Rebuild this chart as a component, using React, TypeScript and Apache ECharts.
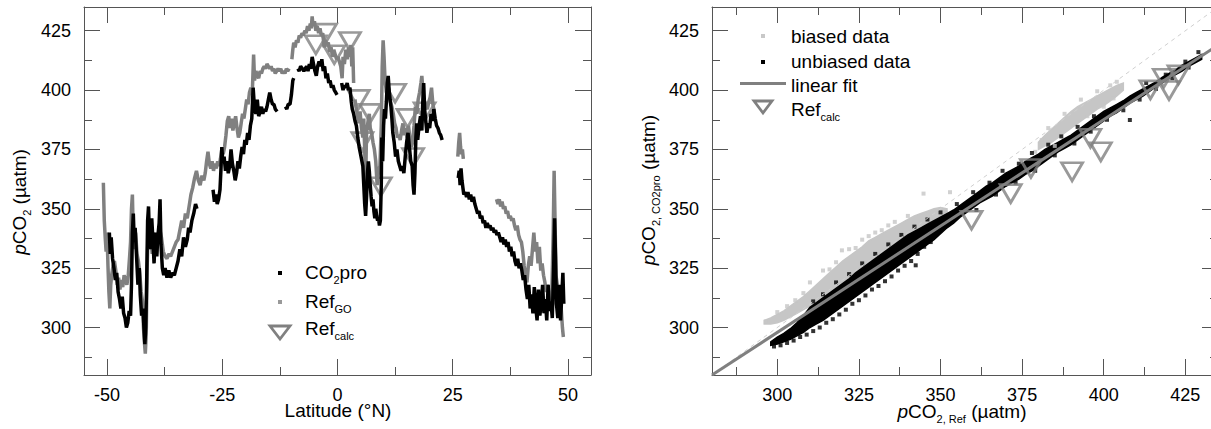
import { useEffect, useRef } from 'react';
import * as echarts from 'echarts';

const FONT = '"Liberation Sans", Arial, Helvetica, sans-serif';

// ---- tick values ----
const latMajor = [-50, -25, 0, 25, 50];
const latMinor = [-37.5, -12.5, 12.5, 37.5];
const pMajor = [300, 325, 350, 375, 400, 425];
const pMinor = [287.5, 312.5, 337.5, 362.5, 387.5, 412.5];

// ---- left panel: pCO2 along latitude (null = gap) ----
const co2pro: (number[] | null)[] = [
  [-49.5,340],[-49.3,331],[-49.1,338],[-48.8,329],[-48.5,325],[-48.2,320],[-47.9,323],[-47.6,315],[-47.3,312],[-47.0,308],[-46.7,313],[-46.4,306],[-46.1,304],[-45.8,300],[-45.5,302],[-45.2,307],[-44.9,305],[-44.7,318],[-44.5,340],[-44.3,348],[-44.1,336],[-43.9,342],[-43.6,330],[-43.3,318],[-43.0,325],[-42.8,314],[-42.5,305],[-42.2,308],[-42.0,300],[-41.8,293],[-41.6,300],[-41.4,320],[-41.2,345],[-41.0,351],[-40.8,338],[-40.5,333],[-40.3,346],[-40.0,335],[-39.8,327],[-39.5,340],[-39.2,330],[-39.0,338],[-38.7,344],[-38.5,354],[-38.3,335],[-38.0,325],[-37.7,322],[-37.4,325],[-37.0,321],[-36.6,324],[-36.2,321],[-35.8,323],[-35.4,322],[-35.0,325],[-34.6,328],[-34.2,333],[-33.8,330],[-33.4,338],[-33.0,334],[-32.6,337],[-32.3,342],[-32.0,340],[-31.6,345],[-31.2,348],[-30.8,352],[-30.5,350],
  null,
  [-27.0,358],[-26.7,353],[-26.4,356],[-26.1,352],[-25.8,354],[-25.5,358],[-25.3,366],[-25.1,376],[-24.9,370],[-24.6,372],[-24.3,366],[-24.0,370],[-23.7,365],[-23.4,368],[-23.1,375],[-22.8,369],[-22.5,366],[-22.2,362],[-21.9,365],[-21.6,370],[-21.3,367],[-21.0,372],[-20.7,376],[-20.4,373],[-20.1,379],[-19.8,377],[-19.5,382],[-19.2,379],[-18.9,385],[-18.6,388],[-18.3,401],[-18.0,392],[-17.7,390],[-17.4,396],[-17.1,389],[-16.8,391],[-16.5,393],[-16.2,390],[-15.9,392],[-15.6,391],[-15.3,393],[-15.0,396],[-14.7,399],[-14.4,396],[-14.1,394],[-13.8,394],[-13.5,392],[-13.1,391],
  null,
  [-11.3,393],[-11.0,392],[-10.7,394],[-10.3,394],[-10.0,398],[-9.7,404],[-9.5,405],
  null,
  [-8.6,409],[-8.3,408],[-8.0,410],[-7.6,409],[-7.3,408],[-7.0,409],[-6.7,410],[-6.4,408],[-6.1,411],[-5.8,409],[-5.5,414],[-5.2,411],[-4.9,408],[-4.6,406],[-4.3,410],[-4.0,412],[-3.7,410],[-3.4,413],[-3.1,408],[-2.8,410],[-2.5,405],[-2.2,407],[-1.9,403],[-1.6,404],[-1.3,401],[-1.0,402],[-0.7,400],[-0.4,399],[-0.1,398],
  null,
  [0.9,403],[1.2,400],[1.5,402],[1.8,401],[2.1,403],[2.4,400],[2.7,401],[3.0,395],[3.2,392],[3.5,390],[3.8,387],[4.1,385],[4.4,380],[4.7,376],[5.0,373],[5.3,370],[5.5,368],[5.7,360],[5.9,352],[6.1,347],[6.3,355],[6.5,365],[6.7,370],[6.9,366],[7.1,360],[7.3,355],[7.5,351],[7.7,354],[7.9,349],[8.1,346],[8.3,350],[8.5,347],[8.7,345],[8.9,346],[9.1,343],[9.3,345],[9.5,360],[9.6,380],[9.8,370],[10.0,385],[10.2,392],[10.4,388],[10.6,395],[10.8,403],[11.0,406],[11.2,400],[11.4,396],[11.6,393],[11.8,388],[12.0,382],[12.3,378],[12.6,372],[12.9,375],[13.2,370],[13.5,368],[13.8,366],[14.1,368],[14.4,365],[14.7,372],[15.0,378],[15.3,382],[15.6,376],[15.9,370],[16.2,368],[16.4,360],[16.6,356],[16.8,365],[17.0,380],[17.2,386],[17.4,379],[17.7,385],[18.0,389],[18.3,383],[18.5,395],[18.7,403],[18.9,392],[19.1,388],[19.4,382],[19.7,386],[20.0,384],[20.3,390],[20.6,387],[20.9,392],[21.2,388],[21.5,385],[21.8,384],[22.1,382],[22.4,381],[22.7,379],
  null,
  [26.2,363],[26.4,366],[26.6,360],[26.8,367],[27.0,362],[27.2,359],[27.4,356],[27.7,357],[28.0,355],[28.3,357],[28.6,354],[28.9,356],[29.2,353],[29.5,355],[29.8,352],[30.1,350],[30.4,348],[30.7,349],[31.0,346],[31.3,347],[31.6,344],[31.9,345],[32.2,342],[32.5,344],[32.8,342],[33.1,343],[33.4,341],[33.7,342],[34.0,340],[34.3,341],[34.6,339],[34.9,340],[35.2,338],[35.5,336],[35.8,338],[36.1,335],[36.4,337],[36.7,334],[37.0,336],[37.3,332],[37.6,334],[37.9,330],[38.2,332],[38.5,328],[38.8,326],[39.1,329],[39.4,325],[39.7,327],[40.0,324],[40.3,320],[40.6,322],[40.9,316],[41.2,312],[41.5,318],[41.8,308],[42.1,314],[42.4,306],[42.7,317],[43.0,309],[43.3,303],[43.6,316],[43.9,305],[44.2,310],[44.5,318],[44.8,306],[45.1,312],[45.4,303],[45.7,318],[46.0,307],[46.3,311],[46.6,304],[46.9,325],[47.1,346],[47.3,330],[47.5,310],[47.8,304],[48.1,318],[48.4,303],[48.7,315],[48.9,323],[49.1,310],
];

const refGO: (number[] | null)[] = [
  [-50.8,361],[-50.6,345],[-50.4,338],[-50.2,332],[-50.0,340],[-49.8,326],[-49.6,315],[-49.4,308],[-49.2,318],[-49.0,322],[-48.7,326],[-48.4,328],[-48.1,324],[-47.8,318],[-47.5,321],[-47.2,316],[-46.9,320],[-46.6,317],[-46.3,322],[-46.0,320],[-45.7,318],[-45.4,322],[-45.1,330],[-44.9,336],[-44.7,350],[-44.5,356],[-44.3,338],[-44.1,333],[-43.8,340],[-43.5,331],[-43.2,328],[-42.9,323],[-42.6,315],[-42.3,311],[-42.1,300],[-41.9,294],[-41.7,289],[-41.5,297],[-41.3,325],[-41.1,340],[-40.8,333],[-40.5,338],[-40.2,331],[-39.9,340],[-39.6,334],[-39.3,331],[-39.0,338],[-38.6,342],[-38.2,338],[-37.8,332],[-37.4,330],[-37.0,329],[-36.6,331],[-36.2,330],[-35.8,332],[-35.4,334],[-35.0,336],[-34.6,337],[-34.2,341],[-33.8,345],[-33.4,342],[-33.0,348],[-32.6,346],[-32.2,351],[-31.8,356],[-31.4,359],[-31.0,363],[-30.6,366],[-30.2,362],[-29.8,360],[-29.4,364],[-29.0,362],[-28.7,365],[-28.4,370],[-28.1,374],[-27.8,369],[-27.5,367],[-27.2,370],[-26.9,366],[-26.6,369],[-26.3,367],[-26.0,370],[-25.7,368],[-25.4,371],[-25.1,375],[-24.8,373],[-24.5,376],[-24.2,381],[-23.9,387],[-23.6,389],[-23.3,384],[-23.0,388],[-22.7,383],[-22.4,386],[-22.1,389],[-21.8,384],[-21.5,380],[-21.2,382],[-20.9,386],[-20.6,390],[-20.3,388],[-20.0,392],[-19.7,396],[-19.4,394],[-19.1,399],[-18.8,401],[-18.5,398],[-18.2,415],[-18.0,404],[-17.7,408],[-17.4,406],[-17.1,405],[-16.8,408],[-16.5,407],[-16.2,409],[-15.9,410],[-15.6,409],[-15.3,411],[-15.0,410],[-14.7,409],[-14.4,410],[-14.1,408],[-13.8,409],[-13.5,407],[-13.2,408],[-12.9,409],[-12.6,408],[-12.3,409],[-12.0,407],[-11.7,408],[-11.4,407],[-11.1,409],[-10.8,408],[-10.5,409],
  null,
  [-9.9,413],[-9.7,417],[-9.5,420],[-9.2,418],[-8.9,421],[-8.6,420],[-8.3,423],[-8.0,422],[-7.7,424],[-7.4,423],[-7.1,425],[-6.8,424],[-6.5,427],[-6.2,425],[-5.9,428],[-5.7,426],[-5.5,431],[-5.3,427],[-5.0,429],[-4.7,425],[-4.4,427],[-4.1,424],[-3.8,426],[-3.5,423],[-3.2,424],[-2.9,418],[-2.6,421],[-2.3,419],[-2.0,420],[-1.7,416],[-1.4,418],[-1.1,414],[-0.8,417],[-0.5,415],[-0.2,413],[0.1,414],[0.4,412],[0.7,410],[1.0,405],[1.2,414],[1.5,411],[1.8,417],[2.1,413],[2.4,418],[2.7,414],[2.9,419],[3.1,410],[3.3,418],[3.5,403],
  null,
  [3.8,396],[4.0,393],[4.3,390],[4.6,386],[4.9,391],[5.2,384],[5.5,380],[5.7,388],[5.9,375],[6.1,360],[6.3,382],[6.5,385],[6.7,388],[6.9,390],[7.1,384],[7.4,382],[7.7,378],[8.0,375],[8.3,370],[8.6,360],[8.9,366],[9.2,368],[9.5,385],[9.7,410],[9.9,421],[10.1,414],[10.3,405],[10.6,399],[10.9,402],[11.2,400],[11.5,395],[11.8,393],[12.1,390],[12.4,386],[12.7,384],[13.0,380],[13.3,381],[13.6,379],[13.9,383],[14.2,386],[14.5,381],[14.8,384],[15.1,380],[15.4,385],[15.7,380],[16.0,376],[16.3,378],[16.6,385],[16.9,393],[17.2,390],[17.5,396],[17.8,399],[18.1,403],[18.3,406],[18.6,398],[18.9,395],[19.2,393],[19.5,392],[19.8,395],[20.1,397],[20.4,401],[20.7,394],[21.0,391],
  null,
  [26.1,372],[26.3,378],[26.5,382],[26.7,376],[26.9,373],[27.1,375],[27.3,371],
  null,
  [34.5,354],[34.8,352],[35.1,354],[35.4,351],[35.7,353],[36.0,350],[36.3,351],[36.6,348],[36.9,349],[37.2,346],[37.5,347],[37.8,345],[38.1,346],[38.4,343],[38.7,341],[39.0,343],[39.3,339],[39.6,337],[39.9,336],[40.2,332],[40.5,326],[40.8,322],[41.1,319],[41.4,326],[41.7,330],[42.0,326],[42.3,333],[42.6,340],[42.9,332],[43.2,336],[43.5,327],[43.8,334],[44.1,324],[44.4,327],[44.7,322],[45.0,319],[45.3,315],[45.6,318],[45.9,313],[46.2,311],[46.5,314],[46.8,340],[47.0,366],[47.2,345],[47.4,322],[47.7,318],[48.0,312],[48.3,316],[48.6,306],[48.8,300],[49.0,296],
];

const refCalcLat = [-4.7, -2.5, -0.7, 2.7, 4.6, 7.1, 5.4, 9.4, 12.5, 15.2, 16.4, 18.9];
const refCalcPco2 = [419.1, 424.0, 414.9, 420.5, 396.1, 390.2, 378.3, 359.3, 398.7, 388.1, 371.6, 390.9];

// ---- right panel: pCO2,CO2pro vs pCO2,Ref ----
// dense core of the unbiased data cloud (x, lower edge, upper edge)
const unbX = [298,300,302,304,306,308,310,312,314,316,318,320,322,324,326,328,330,332,334,336,338,340,342,344,346,348,350,352,354,356,358,360,362,364,366,368,370,372,374,376,378,380,382,384,386,388,390,392,394,396,398,400,402,404,406,408,410,412,414,416,418,420,422,424,426,428,430];
const unbLow = [292.5,293,294,295,296.5,298,300,301.5,303,305,307,309,311,313,315,317,319,321,323,325,327,329,331,333,335,337,339.5,342,344,346.5,348.5,350.5,352.5,354,355.5,357.5,359.5,361,362.5,364.5,366,368,370,372,374,375.5,377,379,381,383,385,387,389,390.5,392.5,394.5,396,397.5,399.5,401.5,403,405,406.5,408,410,411.5,413];
const unbHigh = [294,296,297.5,299.5,302,305,308.5,310.5,312.5,314.5,316.5,318.5,320.5,323,325,327,329,331,333,335,337,339,340.5,342,343.5,345,346.5,348,349.5,351.5,353.5,355.5,357.5,359.5,361,363,365,366.5,368,370,371.5,373,375,376.5,378,379.5,381,383,385,387,389,391,392.5,394,395.5,397.5,399,400.5,402,403.5,405.5,407,408.5,410.5,412,413.5,415];
const unbiasedDots = [[299,292],[301,292.5],[303,293.5],[305,294.5],[307,296],[309,297],[311,298.5],[313,300],[315,302],[317,303.5],[319,305.5],[321,307.5],[323,310],[325,311.5],[327,313.5],[329,316],[331,317.5],[333,319.5],[335,321.5],[337,324],[339,326],[341,328],[342.4,326.2],[343,331],[345,334],[347,336],[311,311],[314,314],[318,319],[322,322.5],[326,327],[330,331],[334,335],[338,339],[342,342.5],[346,345.5],[350,348.5],[355,352],[360,357],[365,361],[369,366],[374,369],[378,373.5],[383,377],[387,380.5],[392,384.5],[397,389],[403.5,392.3],[408,387.4],[413,403],[419,406.5],[425,412],[429,416],[361,349.5],[367,356],[373,361],[379,366],[385,372.5],[391,377.5],[396,382.5],[401,387.5],[406,391.5],[411,396],[416,400.5],[421,405],[426,409.5]];

// biased data: two clouds (x, lower edge, upper edge)
const biasLoX = [296,298,300,302,304,306,308,310,312,314,316,318,320,322,324,326,328,330,332,334,336,338,340,342,344,346,348,350,352];
const biasLoLow = [301.5,301.5,302,303,304.5,306,307.5,309,310.5,312.5,314.5,316.5,318.5,320.5,322.5,324.5,326.5,328.5,330.5,332.5,334.5,336.5,338.5,340.5,342,343.5,345,346.5,348];
const biasLoHigh = [303,304,305.5,307,309,311,313,315.5,318,320.5,323,325.5,328,330,332,334,336.5,338,339.5,341,342.5,344,345.5,347,348,349,350,350.5,350];
const biasHiX = [380,382,384,386,388,390,392,394,396,398,400,402,404,406];
const biasHiLow = [375,376.5,378,380,382,384,386,388,390,392,393.5,395.5,397.5,400];
const biasHiHigh = [378,381,383.5,386,388.5,391,393,394.5,396,397.5,399,400.5,402,403];
const biasedDots = [[296.5,302.5],[319.8,332.5],[344.8,356.4],[352.9,357],[314,324],[310,319],[305.5,311.5],[322,333],[330,340],[334,343],[326,337],[303,309],[383,384],[388,390],[393,396],[398,399.5],[402,402],[404,403.5],[385,376.5],[395,389],[400,393],[379,374],[381,379],[403,396.5],[300,306.5],[308,314.5],[316,324.5],[324,333.5],[332,341],[340,347],[318,327.5],[328,338.5],[336,344.5]];

const refCalcRef = [359.5, 371.5, 377.7, 390.3, 395.9, 399.1, 414.3, 418.4, 420.0, 422.9];
const refCalcPro = [345.2, 356.4, 367.0, 365.6, 379.7, 374.0, 400.1, 405.0, 399.8, 406.4];

const fitRef = [280, 435];
const fitPro = [280, 418.9];
const oneToOne = [280, 435];

// ---- helpers ----
const AX = '#555';
const labelStyle = { fontSize: 18, fontFamily: FONT, color: '#000' };

function axesFor(g: number, dim: 'x' | 'y', min: number, max: number, majors: number[], minors: number[]) {
  const pos = dim === 'x' ? ['bottom', 'top'] : ['left', 'right'];
  const base = { type: 'value', gridIndex: g, min, max, splitLine: { show: false } };
  const lbl = dim === 'x' ? { margin: 13, lineHeight: 13 } : { margin: 13 };
  return [
    { ...base, position: pos[0], axisLine: { show: true, onZero: false, lineStyle: { color: AX, width: 1 } },
      axisTick: { show: true, inside: true, length: 16, customValues: majors, lineStyle: { color: AX } },
      axisLabel: { show: true, customValues: majors, ...lbl, ...labelStyle } },
    { ...base, position: pos[0], axisLine: { show: false, onZero: false },
      axisTick: { show: true, inside: true, length: 8, customValues: minors, lineStyle: { color: AX } },
      axisLabel: { show: false } },
    { ...base, position: pos[1], axisLine: { show: true, onZero: false, lineStyle: { color: AX, width: 1 } },
      axisTick: { show: true, inside: true, length: 16, customValues: majors, lineStyle: { color: AX } },
      axisLabel: { show: false } },
    { ...base, position: pos[1], axisLine: { show: false, onZero: false },
      axisTick: { show: true, inside: true, length: 8, customValues: minors, lineStyle: { color: AX } },
      axisLabel: { show: false } },
  ];
}

const toLine = (arr: (number[] | null)[]) => arr.map((p) => (p ? p : ['-', '-']));

function band(xs: number[], lows: number[], highs: number[], color: string, ai: number) {
  return {
    type: 'custom', coordinateSystem: 'cartesian2d', xAxisIndex: ai, yAxisIndex: ai, silent: true, clip: true,
    data: xs.map((x, i) => [x, lows[i], highs[i]]),
    encode: { x: 0, y: [1, 2] },
    renderItem: (params: any, api: any) => {
      if (params.dataIndex !== 0) return null;
      const top = xs.map((x, i) => api.coord([x, highs[i]]));
      const bottom = xs.map((x, i) => api.coord([x, lows[i]])).reverse();
      return { type: 'polygon', shape: { points: top.concat(bottom) }, style: { fill: color, stroke: color, lineWidth: 1.5 } };
    },
  };
}

const tri = { symbol: 'triangle', symbolRotate: 180, symbolSize: [21, 18],
  itemStyle: { color: 'rgba(0,0,0,0)', borderColor: '#808080', borderWidth: 2.8 } };

const sub = { fontSize: 11, fontFamily: FONT, fill: '#000', padding: [16, 0, 0, 0] };
const it = { fontSize: 19, fontFamily: FONT, fill: '#000', fontStyle: 'italic' };
const nm = { fontSize: 19, fontFamily: FONT, fill: '#000' };

function txt(text: string, x: number, y: number, align: string, rot = 0, fontSize = 19) {
  return {
    type: 'text', x, y, rotation: rot, silent: true,
    style: { text, fontSize, fontFamily: FONT, fill: '#000', align, verticalAlign: 'middle',
      textAlign: align, textVerticalAlign: 'middle', rich: { i: it, s: sub, n: nm } },
  };
}

export default function App() {
  const ref = useRef<HTMLDivElement>(null);
  useEffect(() => {
    const chart = echarts.init(ref.current!, null, { renderer: 'svg' });
    const option: any = {
      animation: false,
      backgroundColor: '#fff',
      grid: [
        { left: 84, top: 7, width: 507, height: 368, outerBoundsMode: 'none' },
        { left: 712, top: 7, width: 506, height: 368, outerBoundsMode: 'none' },
      ],
      xAxis: [...axesFor(0, 'x', -55, 55, latMajor, latMinor), ...axesFor(1, 'x', 280, 435, pMajor, pMinor)],
      yAxis: [...axesFor(0, 'y', 280, 435, pMajor, pMinor), ...axesFor(1, 'y', 280, 435, pMajor, pMinor)],
      series: [
        { type: 'line', xAxisIndex: 0, yAxisIndex: 0, data: toLine(refGO), showSymbol: false, symbol: 'none',
          connectNulls: false, lineStyle: { color: '#808080', width: 3.5 }, silent: true },
        { type: 'line', xAxisIndex: 0, yAxisIndex: 0, data: toLine(co2pro), showSymbol: false, symbol: 'none',
          connectNulls: false, lineStyle: { color: '#000', width: 3.5 }, silent: true },
        { type: 'scatter', xAxisIndex: 0, yAxisIndex: 0, data: refCalcLat.map((x, i) => [x, refCalcPco2[i]]), ...tri, silent: true },

        { type: 'line', xAxisIndex: 4, yAxisIndex: 4, data: oneToOne.map((v) => [v, v]), symbol: 'none',
          lineStyle: { color: '#cfcfcf', width: 1, type: [4, 4] }, silent: true },
        band(biasLoX, biasLoLow, biasLoHigh, '#c6c6c6', 4),
        band(biasHiX, biasHiLow, biasHiHigh, '#c6c6c6', 4),
        { type: 'scatter', xAxisIndex: 4, yAxisIndex: 4, data: biasedDots, symbol: 'rect', symbolSize: 4,
          itemStyle: { color: '#c6c6c6' }, silent: true },
        band(unbX, unbLow, unbHigh, '#000', 4),
        { type: 'scatter', xAxisIndex: 4, yAxisIndex: 4, data: unbiasedDots, symbol: 'rect', symbolSize: 4,
          itemStyle: { color: '#000' }, silent: true },
        { type: 'line', xAxisIndex: 4, yAxisIndex: 4, data: fitRef.map((x, i) => [x, fitPro[i]]), symbol: 'none',
          lineStyle: { color: '#808080', width: 3 }, silent: true },
        { type: 'scatter', xAxisIndex: 4, yAxisIndex: 4, data: refCalcRef.map((x, i) => [x, refCalcPro[i]]), ...tri, silent: true },
      ],
      graphic: [
        // axis titles
        txt('{i|p}CO{s|2} (µatm)', 19, 202, 'center', Math.PI / 2),
        txt('Latitude (°N)', 338, 410, 'center'),
        txt('{i|p}CO{s|2, Ref} (µatm)', 962, 411, 'center'),
        txt('{i|p}CO{s|2, CO2pro} (µatm)', 648, 190, 'center', Math.PI / 2),
        // left legend
        { type: 'rect', shape: { x: 278, y: 271, width: 4, height: 4 }, style: { fill: '#000' }, silent: true },
        txt('CO{s|2}pro', 305, 272, 'left'),
        { type: 'rect', shape: { x: 278, y: 300, width: 4, height: 4 }, style: { fill: '#999' }, silent: true },
        txt('Ref{s|GO}', 305, 301, 'left'),
        { type: 'polygon', shape: { points: [[270, 326], [290, 326], [280, 339]] },
          style: { fill: 'none', stroke: '#808080', lineWidth: 2.8 }, silent: true },
        txt('Ref{s|calc}', 305, 328, 'left'),
        // right legend
        { type: 'rect', shape: { x: 761, y: 34, width: 4, height: 4 }, style: { fill: '#c8c8c8' }, silent: true },
        txt('biased data', 791, 36, 'left'),
        { type: 'rect', shape: { x: 761, y: 60, width: 4, height: 4 }, style: { fill: '#000' }, silent: true },
        txt('unbiased data', 791, 61, 'left'),
        { type: 'line', shape: { x1: 740, y1: 83.5, x2: 786, y2: 83.5 }, style: { stroke: '#808080', lineWidth: 3 }, silent: true },
        txt('linear fit', 791, 85, 'left'),
        { type: 'polygon', shape: { points: [[754, 101], [772, 101], [763, 113]] },
          style: { fill: 'none', stroke: '#808080', lineWidth: 2.8 }, silent: true },
        txt('Ref{s|calc}', 791, 109, 'left'),
      ],
    };
    chart.setOption(option);
    return () => chart.dispose();
  }, []);
  return (
    <div style={{ position: 'fixed', left: 0, top: 0, width: 1211, height: 429, overflow: 'hidden', background: '#fff' }}>
      <div ref={ref} style={{ width: 1230, height: 429 }} />
    </div>
  );
}
